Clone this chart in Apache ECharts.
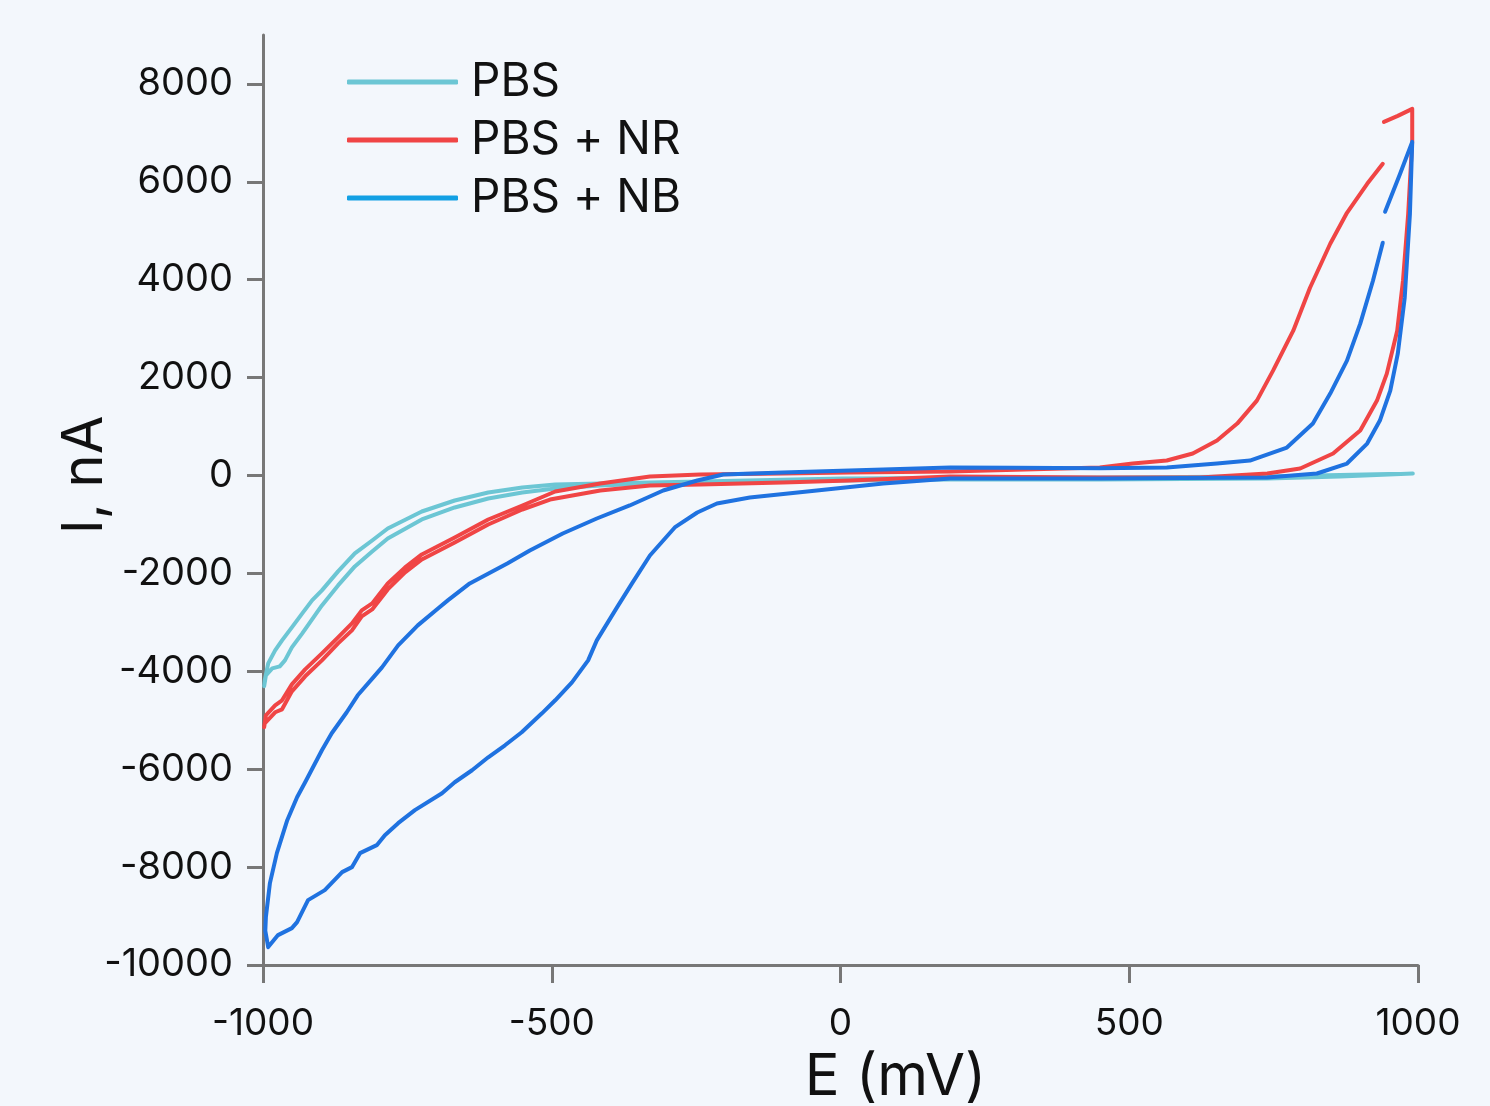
<!DOCTYPE html>
<html>
<head>
<meta charset="utf-8">
<script src="https://cdn.jsdelivr.net/npm/echarts@6/dist/echarts.min.js"></script>
<style>
  html, body { margin: 0; background: #f3f7fc; }
  #main { width: 1490px; height: 1106px; }
</style>
</head>
<body>
<div id="main"></div>
<script>
// E (mV), I (nA), in scan order
var pbsCurve = [
    [991, 41], [865, -20], [739, -61], [449, -82], [190, -82], [3, -102], [-100, -102],
    [-243, -122], [-330, -143], [-416, -163], [-494, -184], [-551, -245], [-610, -347],
    [-668, -510], [-725, -735], [-784, -1082], [-811, -1327], [-841, -1592], [-870, -1959],
    [-898, -2347], [-915, -2551], [-932, -2817], [-950, -3102], [-967, -3368], [-979, -3572],
    [-991, -3837], [-997, -4184], [-998, -4306],
    [-995, -4082], [-984, -3939], [-971, -3898], [-962, -3776], [-950, -3511], [-932, -3225],
    [-915, -2939], [-898, -2653], [-870, -2245], [-841, -1857], [-811, -1551], [-784, -1286],
    [-725, -898], [-668, -653], [-610, -469], [-551, -347], [-494, -265], [-416, -204],
    [-330, -163], [-243, -122], [3, -61], [449, -41], [739, -20], [991, 41]
];
var nrCurve = [
    [941, 7225], [965, 7348], [990, 7490], [990, 6837], [983, 5347], [974, 3980], [964, 2959],
    [946, 2082], [929, 1531], [900, 918], [853, 449], [796, 143], [739, 41], [622, -41],
    [449, -41], [190, -20], [16, -102], [-100, -143], [-243, -184], [-330, -204], [-416, -306],
    [-503, -490], [-551, -694], [-610, -1000], [-668, -1367], [-725, -1714], [-754, -1980],
    [-784, -2327], [-811, -2735], [-829, -2878], [-846, -3164], [-870, -3429], [-898, -3776],
    [-927, -4102], [-950, -4409], [-967, -4776], [-979, -4837], [-997, -5062], [-998, -5143],
    [-995, -4898], [-979, -4694], [-967, -4592], [-950, -4266], [-927, -3960], [-898, -3633],
    [-870, -3306], [-846, -3021], [-829, -2755], [-811, -2613], [-784, -2204], [-754, -1878],
    [-725, -1612], [-668, -1265], [-610, -898], [-551, -612], [-494, -327], [-416, -163],
    [-330, -20], [-243, 20], [-100, 41], [16, 61], [190, 82], [449, 163], [506, 245],
    [565, 306], [610, 449], [652, 714], [687, 1061], [721, 1531], [749, 2143], [784, 2959],
    [813, 3837], [848, 4735], [877, 5368], [912, 5960], [939, 6368]
];
var nbCurve = [
    [943, 5388], [969, 6164], [990, 6817], [986, 5347], [977, 3633], [965, 2490], [952, 1735],
    [934, 1123], [912, 653], [877, 245], [825, 41], [739, -41], [449, -61], [190, -61],
    [74, -163], [-41, -306], [-157, -449], [-214, -571], [-248, -755], [-287, -1061],
    [-330, -1633], [-361, -2204], [-387, -2694], [-422, -3368], [-437, -3776], [-465, -4225],
    [-494, -4592], [-517, -4858], [-552, -5245], [-581, -5511], [-610, -5756], [-638, -6021],
    [-668, -6266], [-690, -6490], [-737, -6837], [-766, -7103], [-789, -7348], [-803, -7552],
    [-832, -7715], [-846, -8001], [-863, -8103], [-893, -8470], [-922, -8674], [-941, -9123],
    [-950, -9246], [-974, -9389], [-991, -9634],
    [-996, -9300], [-995, -9021], [-988, -8327], [-976, -7715], [-958, -7041], [-941, -6572],
    [-927, -6266], [-898, -5613], [-881, -5266], [-855, -4837], [-836, -4490], [-806, -4082],
    [-794, -3919], [-766, -3470], [-732, -3062], [-697, -2715], [-680, -2551], [-642, -2204],
    [-577, -1796], [-538, -1531], [-481, -1184], [-422, -878], [-365, -612], [-307, -306],
    [-248, -102], [-203, 20], [-100, 61], [16, 102], [190, 163], [300, 160], [449, 150],
    [565, 163], [652, 245], [709, 306], [773, 571], [818, 1061], [848, 1674], [877, 2347],
    [900, 3102], [922, 3980], [939, 4755]
];
var seriesNames = ['PBS', 'PBS + NR', 'PBS + NB'];
var yTicks = [-10000, -8000, -6000, -4000, -2000, 0, 2000, 4000, 6000, 8000];

var chart = echarts.init(document.getElementById('main'));
var axisColor = '#777777';
var font = 'Inter';

function curve(name, data, color) {
    return {
        name: name,
        type: 'line',
        data: data,
        symbol: 'none',
        smooth: false,
        animation: false,
        lineStyle: {color: color, width: 4, cap: 'round', join: 'round'},
        itemStyle: {color: color}
    };
}

chart.setOption({
    backgroundColor: '#f3f7fc',
    textStyle: {fontFamily: font},
    grid: {left: 263, right: 72, top: 35, bottom: 141, outerBoundsMode: 'none'},
    legend: {
        left: 347,
        top: 59,
        padding: 0,
        orient: 'vertical',
        icon: 'roundRect',
        itemWidth: 111,
        itemHeight: 5,
        itemGap: 12,
        textStyle: {fontSize: 46, color: '#111', fontFamily: font, lineHeight: 46, padding: [0, 0, 0, 8]},
        data: [
            {name: seriesNames[0], itemStyle: {color: '#6cc6d4'}},
            {name: seriesNames[1], itemStyle: {color: '#f04545'}},
            {name: seriesNames[2], itemStyle: {color: '#12a0e4'}}
        ]
    },
    xAxis: {
        type: 'value',
        min: -1000,
        max: 1000,
        interval: 500,
        axisLine: {show: true, onZero: false, lineStyle: {color: axisColor, width: 3}},
        axisTick: {show: true, length: 18, lineStyle: {color: axisColor, width: 3}},
        splitLine: {show: false},
        axisLabel: {
            fontSize: 37, color: '#111', margin: 40, fontFamily: font,
            formatter: function (v) { return String(v); }
        },
        name: 'E (mV)',
        nameLocation: 'middle',
        nameGap: 84,
        nameMoveOverlap: false,
        nameTextStyle: {fontSize: 58, color: '#111', fontFamily: font, padding: [0, 0, 0, 110]}
    },
    yAxis: {
        type: 'value',
        min: -10000,
        max: 9000,
        interval: 2000,
        axisLine: {show: true, onZero: false, lineStyle: {color: axisColor, width: 3}},
        axisTick: {show: true, length: 16, customValues: yTicks, lineStyle: {color: axisColor, width: 3}},
        splitLine: {show: false},
        axisLabel: {
            fontSize: 38, color: '#111', margin: 30, fontFamily: font,
            customValues: yTicks,
            formatter: function (v) { return String(v); }
        },
        name: 'I, nA',
        nameLocation: 'middle',
        nameRotate: 90,
        nameGap: 150,
        nameMoveOverlap: false,
        nameTextStyle: {fontSize: 56, color: '#111', fontFamily: font, padding: [0, 0, 0, 50]}
    },
    series: [
        curve(seriesNames[0], pbsCurve, '#6cc6d4'),
        curve(seriesNames[1], nrCurve, '#f04545'),
        curve(seriesNames[2], nbCurve, '#1f72e0')
    ]
});
</script>
</body>
</html>
